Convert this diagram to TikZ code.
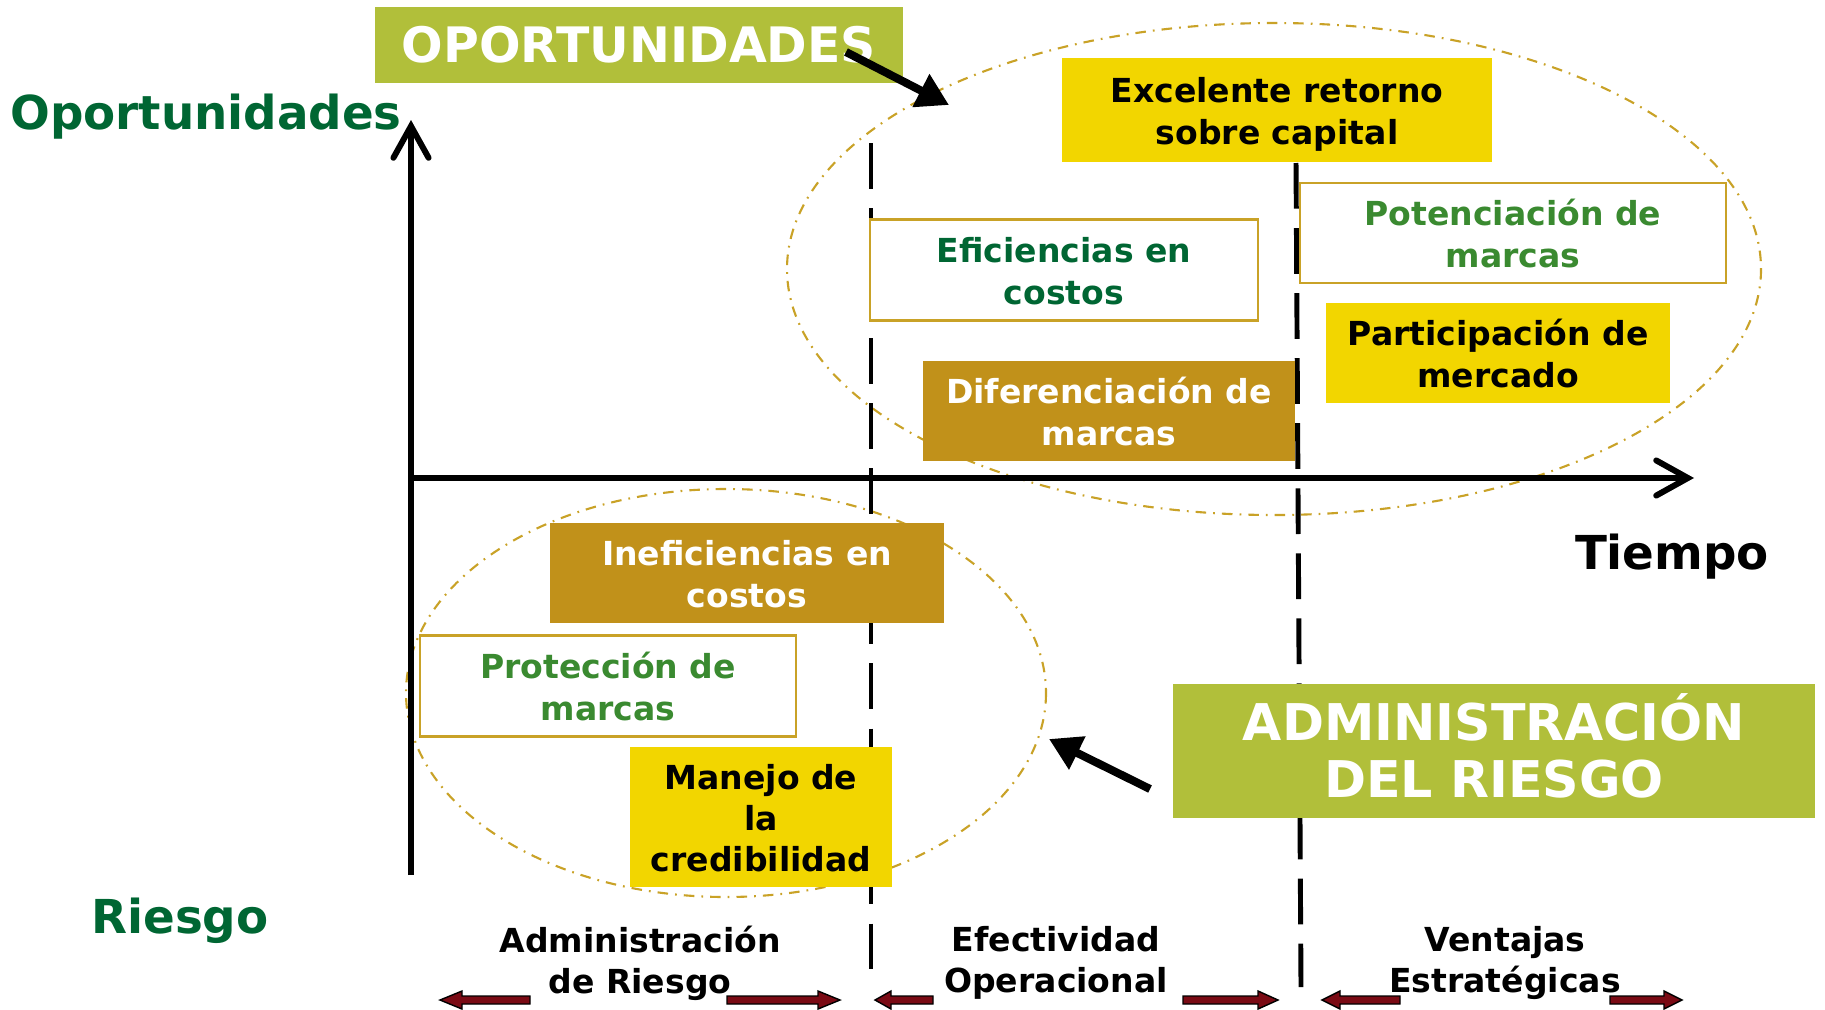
\documentclass[tikz,border=0pt]{standalone}
\usepackage{fontspec}
\setmainfont{DejaVu Sans}
\usetikzlibrary{arrows.meta}

\definecolor{olivo}{HTML}{B1BF3A}
\definecolor{verdeosc}{HTML}{006633}
\definecolor{verdeclaro}{HTML}{3A8A30}
\definecolor{oro}{HTML}{C1911A}
\definecolor{borde}{HTML}{C9A227}
\definecolor{amarillo}{HTML}{F2D600}
\definecolor{rojo}{HTML}{7A0A14}

% puntales para centrar el texto como en la lamina
\newcommand{\arr}{\rule{0pt}{10pt}}
\newcommand{\aba}{\rule[-2.3pt]{0pt}{2.3pt}}
\newcommand{\arrg}{\rule{0pt}{14pt}}
\newcommand{\abag}{\rule[-3.5pt]{0pt}{3.5pt}}

\tikzset{
  boxtext/.style={align=center, font=\fontsize{9.4}{11.7}\selectfont\bfseries, inner sep=0pt},
  yellowbox/.style={boxtext, fill=amarillo, text=black},
  goldbox/.style={boxtext, fill=oro, text=white},
  whitebox/.style={boxtext, fill=white, draw=borde, line width=0.6pt},
  olivebox/.style={align=center, fill=olivo, text=white, inner sep=0pt},
  axis/.style={line width=1.7pt, -{Straight Barb[length=9pt, width=10pt, line cap=round]}},
  divider/.style={line width=1.4pt, dash pattern=on 13pt off 5.5pt},
  zone/.style={draw=borde, line width=0.6pt, dash pattern=on 3pt off 2pt on 0.5pt off 2pt},
  pointer/.style={line width=2.3pt, -{Triangle[length=9pt, width=10pt]}},
  redarrow/.style={fill=rojo, draw=black, line width=0.4pt},
  axislabel/.style={font=\fontsize{13.3}{16}\selectfont\bfseries},
  bottomlabel/.style={align=center, font=\fontsize{9.4}{11.7}\selectfont\bfseries}
}

% flecha roja: #1 cola, #2 punta, #3 largo de cabeza (con signo)
\newcommand{\flecha}[3]{%
  \draw[redarrow] (#1,996) -- (#2+#3,996) -- (#2+#3,991) -- (#2,1000)
    -- (#2+#3,1009) -- (#2+#3,1004) -- (#1,1004) -- cycle;}

\begin{document}
\begin{tikzpicture}[x=0.01cm, y=-0.01cm]
\useasboundingbox (0,0) rectangle (1825,1009);

% zonas
\draw[zone] (1274,269) ellipse [x radius=487, y radius=246];
\draw[zone] (726,693) ellipse [x radius=320, y radius=204];

% ejes
\coordinate (O) at (411,478);
\draw[axis] (411,875) -- (411,120);
\draw[axis] (O) -- (1694,478);

% divisiones
\draw[divider] (871,143) -- (871,978);
\draw[divider] (1296,163) -- (1301,987);

% titulos de ejes
\node[axislabel, text=verdeosc] (oport) at (206,117) {Oportunidades};
\node[axislabel, text=verdeosc] (riesgo) at (180,921) {Riesgo};
\node[axislabel] (tiempo) at (1672,557) {Tiempo};

% cajas de arriba
\node[olivebox, minimum width=5.28cm, minimum height=0.76cm,
      font=\fontsize{13.9}{16}\selectfont\bfseries] (opp) at (639,45) {OPORTUNIDADES};
\node[yellowbox, minimum width=4.30cm, minimum height=1.03cm] (retorno) at (1277,110) {\arr Excelente retorno\\sobre capital\aba};
\node[whitebox, text=verdeosc, minimum width=3.88cm, minimum height=1.01cm] (eficiencias) at (1064,270) {\arr Eficiencias en\\costos\aba};
\node[whitebox, text=verdeclaro, minimum width=4.26cm, minimum height=1.00cm] (potenciacion) at (1513,233) {\arr Potenciación de\\marcas\aba};
\node[yellowbox, minimum width=3.44cm, minimum height=0.99cm] (participacion) at (1498,353) {\arr Participación de\\mercado\aba};
\node[goldbox, minimum width=3.72cm, minimum height=0.99cm] (diferenciacion) at (1109,411) {\arr Diferenciación de\\marcas\aba};

% cajas de abajo
\node[goldbox, minimum width=3.93cm, minimum height=0.99cm] (ineficiencias) at (747,573) {\arr Ineficiencias en\\costos\aba};
\node[whitebox, text=verdeclaro, minimum width=3.75cm, minimum height=1.01cm] (proteccion) at (608,686) {\arr Protección de\\marcas\aba};
\node[yellowbox, minimum width=2.61cm, minimum height=1.39cm] (manejo) at (761,817) {\arr Manejo de\\la\\credibilidad\aba};
\node[olivebox, minimum width=6.41cm, minimum height=1.34cm,
      font=\fontsize{14.4}{16.2}\selectfont\bfseries] (admin) at (1494,751) {\arrg ADMINISTRACIÓN\\DEL RIESGO\abag};

% flechas negras
\coordinate (oppTail) at (846,52);
\coordinate (oppTip) at (949,105);
\draw[pointer] (oppTail) -- (oppTip);
\coordinate (adminTail) at (1150,789);
\coordinate (adminTip) at (1049,739);
\draw[pointer] (adminTail) -- (adminTip);

% etapas
\node[bottomlabel] (etapa1) at (640,963) {Administración\\de Riesgo};
\node[bottomlabel] (etapa2) at (1056,963) {Efectividad\\Operacional};
\node[bottomlabel] (etapa3) at (1505,963) {Ventajas\\Estratégicas};

\flecha{530}{440}{22}
\flecha{727}{840}{-22}
\flecha{933}{875}{16}
\flecha{1183}{1278}{-20}
\flecha{1400}{1322}{18}
\flecha{1610}{1682}{-18}

\end{tikzpicture}
\end{document}
